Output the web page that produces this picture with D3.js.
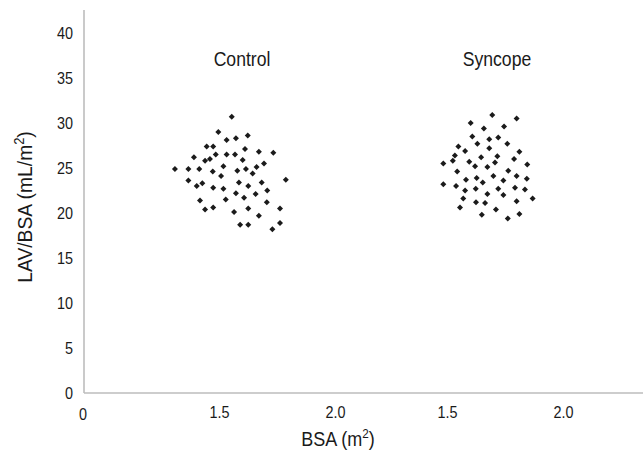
<!DOCTYPE html>
<html>
<head>
<meta charset="utf-8">
<script src="https://cdn.jsdelivr.net/npm/d3@7"></script>
<style>
  body { margin: 0; background: #fff; }
  text { font-family: "Liberation Sans", Arial, sans-serif; fill: #1a1a1a; }
</style>
</head>
<body>
<svg width="643" height="460"></svg>
<script>
// panels
const groups = ['Control', 'Syncope'];

// Control group: BSA (m2) and LAV/BSA (mL/m2)
const controlBSA = [1.555, 1.497, 1.533, 1.573, 1.624, 1.447, 1.475, 1.612, 1.672, 1.734,
  1.392, 1.486, 1.533, 1.569, 1.440, 1.461, 1.602, 1.694, 1.310, 1.368,
  1.415, 1.473, 1.519, 1.579, 1.616, 1.662, 1.645, 1.509, 1.368, 1.428,
  1.404, 1.475, 1.519, 1.586, 1.626, 1.684, 1.788, 1.708, 1.418, 1.529,
  1.573, 1.608, 1.658, 1.706, 1.440, 1.475, 1.565, 1.626, 1.672, 1.763,
  1.591, 1.626, 1.763, 1.730];
const controlLAV = [30.7, 29.0, 28.1, 28.3, 28.6, 27.4, 27.4, 27.1, 26.8, 26.7,
  26.2, 26.5, 26.5, 26.5, 25.8, 26.0, 25.9, 25.5, 24.9, 24.9,
  24.9, 24.6, 25.2, 24.7, 24.9, 25.1, 24.4, 24.1, 23.6, 23.3,
  23.0, 22.8, 22.7, 23.4, 23.0, 23.4, 23.7, 22.5, 21.4, 21.5,
  22.2, 21.7, 22.1, 21.2, 20.4, 20.6, 20.1, 20.5, 19.7, 20.5,
  18.7, 18.7, 18.9, 18.2];

// Syncope group
const syncopeBSA = [1.695, 1.800, 1.602, 1.659, 1.746, 1.609, 1.682, 1.721, 1.631, 1.760,
  1.549, 1.682, 1.578, 1.812, 1.534, 1.525, 1.484, 1.647, 1.596, 1.621,
  1.717, 1.707, 1.789, 1.846, 1.674, 1.544, 1.764, 1.700, 1.800, 1.628,
  1.582, 1.743, 1.844, 1.484, 1.539, 1.654, 1.578, 1.624, 1.721, 1.793,
  1.836, 1.674, 1.743, 1.570, 1.869, 1.625, 1.664, 1.800, 1.556, 1.711,
  1.650, 1.812, 1.762];
const syncopeLAV = [30.9, 30.5, 30.0, 29.4, 29.6, 28.5, 28.2, 28.4, 27.7, 27.7,
  27.4, 27.2, 26.9, 26.8, 26.4, 25.8, 25.5, 26.2, 25.7, 25.2,
  26.3, 25.6, 26.0, 25.4, 25.1, 24.6, 24.7, 24.1, 24.1, 23.9,
  23.7, 23.6, 23.8, 23.2, 23.0, 23.4, 22.5, 22.7, 22.7, 22.8,
  22.6, 22.1, 22.0, 21.6, 21.6, 21.2, 21.1, 21.3, 20.6, 20.4,
  19.8, 19.9, 19.4];

const xTicks = [1.5, 2.0];
const yTicks = [0, 5, 10, 15, 20, 25, 30, 35, 40];

const svg = d3.select('svg');
const width = +svg.attr('width');
const height = +svg.attr('height');

const originX = 84, originY = 393;

const y = d3.scaleLinear().domain([0, 40]).range([originY, 33]);

// one x scale per panel, the axis is broken between them
const xScales = {
  Control: d3.scaleLinear().domain([1.0, 2.0]).range([103, 335]),
  Syncope: d3.scaleLinear().domain([1.0, 2.0]).range([331, 563])
};

// axis lines
svg.append('line')
  .attr('x1', originX).attr('x2', originX)
  .attr('y1', 10).attr('y2', originY)
  .attr('stroke', '#bdbdbd').attr('stroke-width', 1.6);
svg.append('line')
  .attr('x1', originX).attr('x2', width)
  .attr('y1', originY).attr('y2', originY)
  .attr('stroke', '#bdbdbd').attr('stroke-width', 1.6);

// y ticks
const yAxis = svg.append('g')
  .attr('transform', `translate(${originX},0)`)
  .call(d3.axisLeft(y).tickValues(yTicks).tickSize(0).tickPadding(0));
yAxis.select('.domain').remove();
yAxis.selectAll('text').style('font-size', '16px')
  .style('font-family', '"Liberation Sans", Arial, sans-serif').attr('fill', '#1a1a1a')
  .attr('x', 0).attr('dy', '0.36em')
  .attr('transform', 'translate(-11,0) scale(0.9,1)');

// x ticks
svg.append('text')
  .attr('transform', `translate(${originX - 1},420) scale(0.9,1)`)
  .attr('text-anchor', 'middle').style('font-size', '16px').text('0');

groups.forEach(g => {
  const ax = svg.append('g')
    .attr('transform', `translate(0,${originY})`)
    .call(d3.axisBottom(xScales[g]).tickValues(xTicks).tickFormat(d3.format('.1f')).tickSize(0).tickPadding(14));
  ax.select('.domain').remove();
  ax.selectAll('text').style('font-size', '16px')
    .style('font-family', '"Liberation Sans", Arial, sans-serif').attr('fill', '#1a1a1a')
    .attr('transform', 'scale(0.9,1)');
});

// panel labels
const labelX = { Control: 242, Syncope: 497 };
groups.forEach(g => {
  svg.append('text')
    .attr('transform', `translate(${labelX[g]},66) scale(0.88,1)`)
    .attr('text-anchor', 'middle').style('font-size', '20px').text(g);
});

// points
const diamond = d3.symbol().type(d3.symbolSquare).size(18);
const drawPoints = (g, xs, ys) => {
  svg.append('g').selectAll('path')
    .data(xs.map((v, i) => [v, ys[i]]))
    .enter().append('path')
      .attr('d', diamond)
      .attr('fill', '#1b1b1b')
      .attr('transform', d => `translate(${xScales[g](d[0])},${y(d[1])}) rotate(45)`);
};
drawPoints('Control', controlBSA, controlLAV);
drawPoints('Syncope', syncopeBSA, syncopeLAV);

// axis titles
const xt = svg.append('text')
  .attr('transform', 'translate(338,446) scale(0.9,1)')
  .attr('text-anchor', 'middle').style('font-size', '20px');
xt.append('tspan').text('BSA (m');
xt.append('tspan').attr('dy', -8).style('font-size', '13px').text('2');
xt.append('tspan').attr('dy', 8).text(')');

const yt = svg.append('text')
  .attr('transform', 'translate(32,207) rotate(-90) scale(0.92,1)')
  .attr('text-anchor', 'middle').style('font-size', '21px');
yt.append('tspan').text('LAV/BSA (mL/m');
yt.append('tspan').attr('dy', -8).style('font-size', '14px').text('2');
yt.append('tspan').attr('dy', 8).text(')');
</script>
</body>
</html>
